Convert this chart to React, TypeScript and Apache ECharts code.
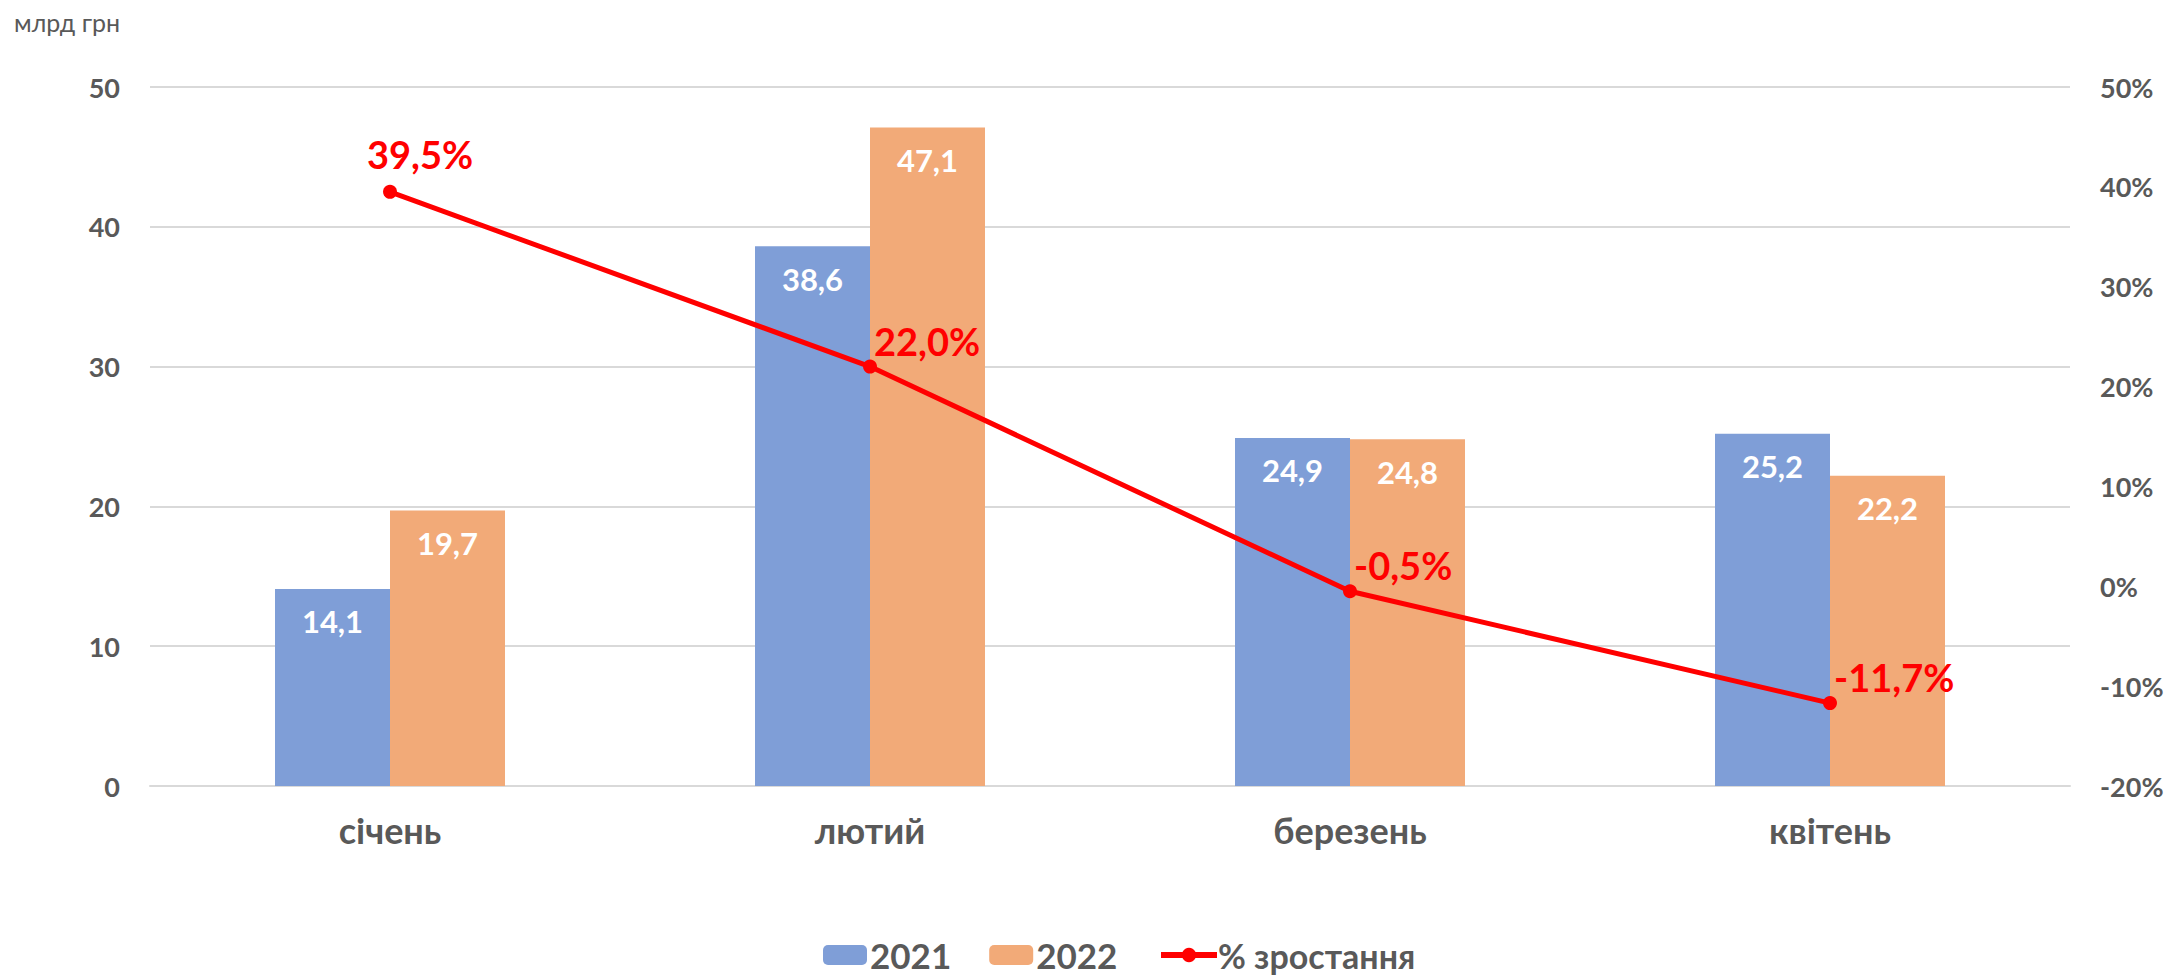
import React, { useEffect, useRef } from "react";
import * as echarts from "echarts";

const categories = ["січень", "лютий", "березень", "квітень"];
const values2021 = [14.1, 38.6, 24.9, 25.2];
const values2022 = [19.7, 47.1, 24.8, 22.2];
const growthPct = [39.5, 22.0, -0.5, -11.7];
const unitLabel = "млрд грн";
const seriesNames = ["2021", "2022", "% зростання"];

const FONT = "Lato, 'Noto Sans', sans-serif";
const GRAY = "#595959";

const fmt = (v: number) => v.toFixed(1).replace(".", ",");

export default function App() {
  const ref = useRef<HTMLDivElement>(null);
  useEffect(() => {
    document.body.style.margin = "0";
    document.body.style.overflow = "hidden";
    if (!ref.current) return;
    const chart = echarts.init(ref.current, null, { renderer: "svg" });
    const lineData = growthPct.map((v, i) => ({
      value: v,
      label:
        i === 0
          ? { position: "top", distance: 12, offset: [30, 0] }
          : { position: "right", offset: [-8, -26] },
    }));
    chart.setOption({
      animation: false,
      textStyle: { fontFamily: FONT },
      title: {
        text: unitLabel,
        left: 9,
        top: 4,
        textStyle: { fontFamily: FONT, fontSize: 25, fontWeight: "normal", color: GRAY },
      },
      grid: { left: 150, right: 99, top: 87, bottom: 190, containLabel: false },
      legend: [
        {
          top: 937,
          left: 823,
          itemWidth: 44,
          itemHeight: 20,
          itemGap: 38,
          padding: 0,
          textStyle: {
            fontFamily: FONT,
            fontSize: 35,
            lineHeight: 36,
            fontWeight: "bold",
            color: GRAY,
            padding: [0, 0, 0, -2],
          },
          data: [seriesNames[0], seriesNames[1]],
        },
        {
          top: 937,
          left: 1158,
          itemWidth: 56,
          itemHeight: 18,
          padding: 0,
          lineStyle: { width: 6 },
          textStyle: {
            fontFamily: FONT,
            fontSize: 34,
            lineHeight: 36,
            fontWeight: "bold",
            color: GRAY,
            padding: [0, 0, 0, -4],
          },
          data: [seriesNames[2]],
        },
      ],
      xAxis: {
        type: "category",
        data: categories,
        axisLine: { lineStyle: { color: "#D9D9D9", width: 2 } },
        axisTick: { show: false },
        axisLabel: { fontFamily: FONT, fontSize: 36, fontWeight: "bold", color: GRAY, margin: 26 },
      },
      yAxis: [
        {
          type: "value",
          min: 0,
          max: 50,
          interval: 10,
          axisLine: { show: false },
          axisTick: { show: false },
          splitLine: { lineStyle: { color: "#D9D9D9", width: 2 } },
          axisLabel: { fontFamily: FONT, fontSize: 27, fontWeight: "bold", color: GRAY, margin: 30 },
        },
        {
          type: "value",
          min: -20,
          max: 50,
          interval: 10,
          axisLine: { show: false },
          axisTick: { show: false },
          splitLine: { show: false },
          axisLabel: {
            fontFamily: FONT,
            fontSize: 27,
            fontWeight: "bold",
            color: GRAY,
            margin: 30,
            formatter: (v: number) => `${v}%`,
          },
        },
      ],
      series: [
        {
          name: seriesNames[0],
          type: "bar",
          data: values2021,
          barWidth: 115,
          barGap: "0%",
          itemStyle: { color: "#7F9ED7" },
          label: {
            show: true,
            position: "insideTop",
            distance: 17,
            fontFamily: FONT,
            fontSize: 31,
            fontWeight: "bold",
            color: "#FFFFFF",
            formatter: (p: any) => fmt(p.value),
          },
        },
        {
          name: seriesNames[1],
          type: "bar",
          data: values2022,
          barWidth: 115,
          barGap: "0%",
          itemStyle: { color: "#F2AA78" },
          label: {
            show: true,
            position: "insideTop",
            distance: 17,
            fontFamily: FONT,
            fontSize: 31,
            fontWeight: "bold",
            color: "#FFFFFF",
            formatter: (p: any) => fmt(p.value),
          },
        },
        {
          name: seriesNames[2],
          type: "line",
          yAxisIndex: 1,
          data: lineData,
          symbol: "circle",
          symbolSize: 14,
          lineStyle: { color: "#FF0000", width: 5 },
          itemStyle: { color: "#FF0000" },
          label: {
            show: true,
            fontFamily: FONT,
            fontSize: 38,
            fontWeight: "bold",
            color: "#FF0000",
            formatter: (p: any) => `${fmt(p.value)}%`,
          },
        },
      ],
    });
    return () => chart.dispose();
  }, []);
  return <div ref={ref} style={{ width: 2169, height: 976 }} />;
}
